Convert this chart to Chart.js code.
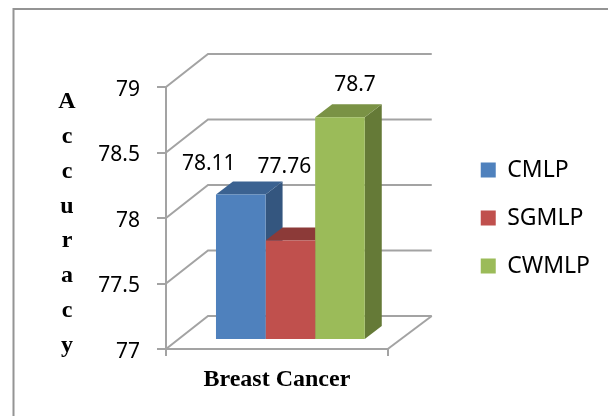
<!DOCTYPE html>
<html>
<head>
<meta charset="utf-8">
<style>
  html, body { margin:0; padding:0; background:#fff; }
  #wrap { width:608px; height:416px; }
</style>
<script src="https://cdn.jsdelivr.net/npm/chart.js@4/dist/chart.umd.min.js"></script>
</head>
<body>
<div id="wrap"><canvas id="chart" width="608" height="416"></canvas></div>
<script>
const categorias = ['Breast Cancer'];
const series = ['CMLP', 'SGMLP', 'CWMLP'];
const valores = [78.11, 77.76, 78.7];
const yMin = 77;
const yMax = 79;
const yStep = 0.5;
const tituloY = ['A', 'c', 'c', 'u', 'r', 'a', 'c', 'y'];

const corFrente = ['#4f81bd', '#c0504d', '#9bbb59'];
const corTopo   = ['#3b6291', '#8c3a38', '#7a9245'];
const corLado   = ['#34567f', '#7a3230', '#657a37'];

const fonteNum = "'Noto Sans', sans-serif";
const fonteSerif = "'Liberation Serif', serif";
const corEixo = '#a3a3a3';

// profundidade da parede do fundo e das barras (caixa 3D falsa)
const PAREDE = { dx: 42, dy: 33 };
const BARRA  = { dx: 17, dy: 13 };
const DESLOCA = { x: 13.5, y: -9 };
// rótulos ficam soltos em relação à barra
const ROTULO = [{ x: -32, y: -31 }, { x: -6, y: -73 }, { x: 15, y: -32 }];

function linha(ctx, pts) {
  ctx.beginPath();
  pts.forEach((p, i) => i ? ctx.lineTo(p[0], p[1]) : ctx.moveTo(p[0], p[1]));
  ctx.stroke();
}

function poligono(ctx, pts, cor) {
  ctx.fillStyle = cor;
  ctx.beginPath();
  pts.forEach((p, i) => i ? ctx.lineTo(p[0], p[1]) : ctx.moveTo(p[0], p[1]));
  ctx.closePath();
  ctx.fill();
}

const moldura = {
  id: 'moldura',
  beforeDraw(chart) {
    const ctx = chart.ctx;
    ctx.save();
    ctx.strokeStyle = '#949494';
    ctx.lineWidth = 2;
    linha(ctx, [[13.5, 416], [13.5, 9], [608, 9]]);
    ctx.restore();
  }
};

const caixa3d = {
  id: 'caixa3d',
  beforeDatasetsDraw(chart) {
    const ctx = chart.ctx;
    const { left, right } = chart.chartArea;
    const y = chart.scales.y;
    ctx.save();
    ctx.strokeStyle = corEixo;
    ctx.lineWidth = 2;
    // paredes: cada marca do eixo sobe em diagonal e corre pelo fundo
    y.ticks.forEach(t => {
      const py = y.getPixelForValue(t.value);
      linha(ctx, [[left, py], [left + PAREDE.dx, py - PAREDE.dy], [right + PAREDE.dx + 2, py - PAREDE.dy]]);
    });
    // lado direito do piso
    const base = y.getPixelForValue(yMin);
    linha(ctx, [[right, base], [right + PAREDE.dx + 2, base - PAREDE.dy]]);

    // faces de cima e do lado das barras
    ctx.translate(DESLOCA.x, DESLOCA.y);
    chart.data.datasets.forEach((ds, i) => {
      const b = chart.getDatasetMeta(i).data[0];
      const x0 = b.x - b.width / 2;
      const x1 = b.x + b.width / 2;
      poligono(ctx, [[x1, b.y], [x1 + BARRA.dx, b.y - BARRA.dy], [x1 + BARRA.dx, b.base - BARRA.dy], [x1, b.base]], corLado[i]);
      poligono(ctx, [[x0, b.y], [x0 + BARRA.dx, b.y - BARRA.dy], [x1 + BARRA.dx, b.y - BARRA.dy], [x1, b.y]], corTopo[i]);
    });
    ctx.restore();
    // a frente da barra sai do Chart.js, no mesmo deslocamento
    ctx.save();
    ctx.translate(DESLOCA.x, DESLOCA.y);
  },
  afterDatasetsDraw(chart) {
    const ctx = chart.ctx;
    ctx.restore();
    ctx.save();
    ctx.fillStyle = '#000';
    ctx.textAlign = 'center';
    ctx.textBaseline = 'middle';
    ctx.font = '21px ' + fonteNum;
    chart.data.datasets.forEach((ds, i) => {
      const b = chart.getDatasetMeta(i).data[0];
      ctx.fillText(String(ds.data[0]), b.x + DESLOCA.x + ROTULO[i].x, b.y + DESLOCA.y + ROTULO[i].y);
    });
    // título do eixo Y, uma letra por linha
    ctx.font = 'bold 24px ' + fonteSerif;
    tituloY.forEach((l, i) => ctx.fillText(l, 67, 102 + i * 34.8));
    ctx.restore();
  }
};

new Chart(document.getElementById('chart'), {
  type: 'bar',
  data: {
    labels: categorias,
    datasets: series.map((nome, i) => ({
      label: nome,
      data: [valores[i]],
      yAxisID: 'y',
      base: yMin,
      backgroundColor: corFrente[i],
      borderWidth: 0,
      clip: false,
      barPercentage: 1,
      categoryPercentage: 0.671
    }))
  },
  options: {
    responsive: false,
    animation: false,
    layout: { padding: { top: 87, right: 8, left: 0, bottom: 0 } },
    plugins: {
      tooltip: { enabled: false },
      legend: {
        position: 'right',
        fullSize: false,
        maxWidth: 150,
        labels: {
          boxWidth: 15, boxHeight: 15, padding: 25,
          color: '#000',
          font: { family: fonteNum, size: 23 }
        }
      }
    },
    scales: {
      x: {
        grid: { color: corEixo, lineWidth: 2, tickLength: 7, drawOnChartArea: false },
        border: { color: corEixo, width: 2 },
        ticks: { color: '#000', padding: 9, font: { family: fonteSerif, size: 24, weight: 'bold' } },
        afterFit: s => { s.height = 67; }
      },
      y: {
        min: yMin,
        max: yMax,
        grid: { color: corEixo, lineWidth: 2, tickLength: 9, drawOnChartArea: false },
        border: { color: corEixo, width: 2 },
        ticks: { stepSize: yStep, color: '#000', padding: 17, labelOffset: 3, font: { family: fonteNum, size: 21 }, callback: v => String(v) },
        afterFit: s => { s.width = 166; }
      },
      // só abre espaço entre o gráfico e a legenda
      folga: {
        position: 'right',
        display: true,
        grid: { display: false },
        border: { display: false },
        ticks: { display: false },
        afterFit: s => { s.width = 68; }
      }
    }
  },
  plugins: [moldura, caixa3d]
});
</script>
</body>
</html>
